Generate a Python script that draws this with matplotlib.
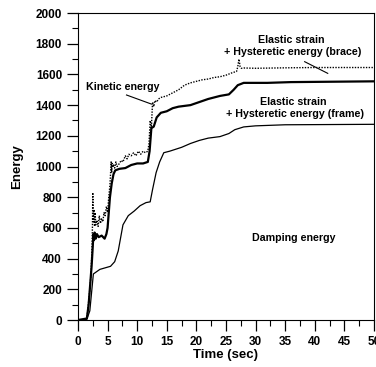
import matplotlib as mpl
mpl.use('Agg')
import matplotlib.pyplot as plt
from matplotlib.ticker import MultipleLocator

plt.rcParams['font.family'] = ['Liberation Sans', 'DejaVu Sans']
plt.rcParams['font.weight'] = 'bold'

# top curve: total incl. kinetic energy (dotted, noisy)
t_top = [0, 1.0, 1.5, 1.8, 2.0, 2.2, 2.35, 2.45, 2.5, 2.6, 2.7, 2.8, 2.9, 3.0,
         3.2, 3.4, 3.6, 3.8, 4.0, 4.2, 4.4, 4.6, 4.8, 5.0, 5.2, 5.4, 5.5, 5.6,
         5.7, 5.8, 5.9, 6.0, 6.2, 6.4, 6.6, 6.8, 7.0, 7.3, 7.6, 8.0, 8.3, 8.6,
         9.0, 9.4, 9.8, 10.2, 10.6, 11.0, 11.4, 11.8, 12.0, 12.2, 12.4, 12.6,
         12.8, 13.0, 13.3, 13.6, 14.0, 15, 16, 17, 18, 19, 20, 21, 22, 23, 24,
         25, 26, 26.8, 27.0, 27.2, 27.4, 27.6, 28, 30, 35, 40, 45, 50]
e_top = [0, 0, 10, 120, 200, 300, 450, 620, 830, 640, 720, 610, 700, 620,
         650, 610, 680, 630, 660, 640, 700, 680, 740, 700, 800, 880, 950, 1030,
         960, 1020, 1000, 1010, 990, 1030, 1000, 1010, 1020, 1040, 1030, 1070,
         1050, 1080, 1070, 1090, 1070, 1100, 1080, 1100, 1090, 1100, 1150, 1300,
         1250, 1420, 1390, 1430, 1420, 1440, 1450, 1460, 1480, 1500, 1530, 1545,
         1555, 1565, 1570, 1580, 1585, 1595, 1610, 1620, 1650, 1700, 1650, 1640,
         1642, 1640, 1643, 1645, 1645, 1645]

# middle curve: elastic strain + hysteretic energy (brace)
t_mid = [0, 1.5, 1.8, 2.0, 2.3, 2.5, 2.6, 2.7, 2.8, 3.0, 3.2, 3.5, 4.0, 4.5,
         4.8, 5.0, 5.2, 5.4, 5.7, 6.0, 6.3, 7, 8, 9, 10, 11, 11.8, 12.1, 12.4,
         12.8, 13.3, 14, 15, 16, 17, 19, 20.5, 22, 24, 25.5, 26.3, 27, 28, 32,
         36, 50]
e_mid = [0, 10, 100, 200, 350, 480, 560, 520, 570, 530, 560, 540, 550, 530,
         560, 600, 700, 800, 890, 950, 975, 985, 990, 1010, 1020, 1020, 1030,
         1100, 1250, 1260, 1320, 1350, 1360, 1380, 1390, 1400, 1420, 1440, 1460,
         1470, 1500, 1530, 1545, 1545, 1550, 1555]

# bottom curve: elastic strain + hysteretic energy (frame) / damping
t_bot = [0, 1.5, 2.0, 2.6, 3.7, 5.5, 6.2, 6.8, 7.6, 8.5, 9.5, 10.5, 11.5,
         12.2, 12.6, 13.2, 13.8, 14.5, 15.5, 17.5, 19, 20.5, 22, 24, 25.5,
         26.5, 28, 30, 35, 50]
e_bot = [0, 5, 60, 300, 330, 350, 380, 450, 620, 680, 710, 745, 765, 770,
         850, 960, 1030, 1090, 1100, 1125, 1150, 1170, 1185, 1195, 1215, 1240,
         1258, 1265, 1272, 1275]

fig = plt.figure(figsize=(3.76, 3.67), dpi=100)
ax = fig.add_axes([0.2074, 0.128, 0.787, 0.8365])

ax.plot(t_top, e_top, color='black', lw=1.0, ls=(0, (1, 1)))
ax.plot(t_mid, e_mid, color='black', lw=1.6)
ax.plot(t_bot, e_bot, color='black', lw=0.9)

ax.set_xlim(0, 50)
ax.set_ylim(0, 2000)
ax.xaxis.set_major_locator(MultipleLocator(5))
ax.xaxis.set_minor_locator(MultipleLocator(2.5))
ax.yaxis.set_major_locator(MultipleLocator(200))
ax.yaxis.set_minor_locator(MultipleLocator(100))
ax.tick_params(which='major', direction='out', length=8, width=0.9, labelsize=8.5)
ax.tick_params(which='minor', direction='out', length=4, width=0.8)
for lab in ax.get_xticklabels() + ax.get_yticklabels():
    lab.set_fontweight('bold')

ax.set_xlabel("Time (sec)", fontsize=9.5, fontweight='bold', labelpad=1)
ax.set_ylabel("Energy", fontsize=9.5, fontweight='bold', labelpad=9)

fs = 7.7
ax.text(7.5, 1516, "Kinetic energy", fontsize=fs, ha='center', va='center')
ax.plot([8.2, 12.4], [1466, 1407], color='black', lw=0.8)
ax.text(36.0, 1824, "Elastic strain", fontsize=fs, ha='center', va='center')
ax.text(36.3, 1744, "+ Hysteretic energy (brace)", fontsize=fs, ha='center', va='center')
ax.plot([38.3, 42.2], [1683, 1607], color='black', lw=0.8)
ax.text(36.3, 1422, "Elastic strain", fontsize=fs, ha='center', va='center')
ax.text(36.7, 1340, "+ Hysteretic energy (frame)", fontsize=fs, ha='center', va='center')
ax.text(36.5, 534, "Damping energy", fontsize=fs, ha='center', va='center')

fig.savefig("out.png", dpi=100)
